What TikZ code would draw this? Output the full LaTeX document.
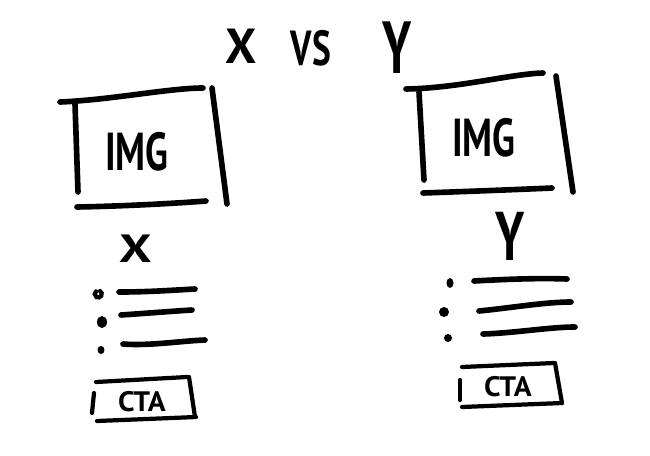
\documentclass[tikz,border=0pt]{standalone}
\usepackage{fontspec}
\setmainfont{PT Sans}
\usetikzlibrary{positioning}

\begin{document}
\begin{tikzpicture}[
    x=0.025cm, y=-0.025cm,
    pen/.style={line width=4pt, line cap=round},
    thinpen/.style={line width=3pt, line cap=round},
    dot/.style={fill=black},
    bigtext/.style={font=\bfseries\fontsize{38}{38}\selectfont, inner sep=0pt, transform shape},
    titletext/.style={font=\bfseries\fontsize{35}{35}\selectfont, inner sep=0pt, transform shape},
    smalltext/.style={font=\bfseries\fontsize{20}{20}\selectfont, inner sep=0pt, transform shape}
]
\useasboundingbox (0,0) rectangle (650,455);

% --- Title ---
\node[titletext] (titlex) at (241,46) {X};
\node[titletext, xscale=0.72] (titlevs) at (311,48) {VS};
\node[titletext, yscale=1.5] (titley) at (397,48) {Y};

% --- Left variant ---

% image frame
\draw[pen] (60,102) .. controls (110,100) and (170,88) .. (203,88);
\draw[pen] (75,104) -- (78,192);
\draw[pen] (212,88) -- (227,204);
\draw[pen] (77,207) .. controls (130,206) and (180,203) .. (206,201);
\node[bigtext, xscale=0.7] (imgleft) at (137,152) {IMG};

% variant label
\node[titletext, xscale=1.3, scale=0.8] (labelx) at (136,249) {X};

% list
\draw[thinpen] (100,291) arc (-60:230:3.5);
\fill[dot] (102,322) ellipse (5 and 6);
\fill[dot] (101,350) ellipse (3.5 and 4);
\draw[pen] (119,292) .. controls (150,292) and (175,290) .. (195,289);
\draw[pen] (121,315) .. controls (150,313) and (175,311) .. (192,310);
\draw[pen] (123,344) .. controls (150,346) and (180,341) .. (205,340);

% call to action
\draw[thinpen] (96,382) -- (187,377);
\draw[thinpen] (94,393) -- (92,413);
\draw[thinpen] (189,377) -- (195,417);
\draw[thinpen] (97,421) -- (196,417);
\node[smalltext, xscale=1.05] (ctaleft) at (142,402) {CTA};

% --- Right variant ---

% image frame
\draw[pen] (406,89) .. controls (460,88) and (510,74) .. (543,73);
\draw[pen] (419,92) -- (424,180);
\draw[pen] (556,76) -- (573,192);
\draw[pen] (423,193) .. controls (480,191) and (530,189) .. (552,188);
\node[bigtext, xscale=0.7] (imgright) at (484,138) {IMG};

% variant label
\node[titletext, yscale=1.4] (labely) at (510,236) {Y};

% list
\fill[dot] (450,283) ellipse (3.5 and 5);
\fill[dot] (444,312) ellipse (5 and 5);
\fill[dot] (448,338) ellipse (4 and 4);
\draw[pen] (474,281) .. controls (510,279) and (540,278) .. (567,279);
\draw[pen] (479,311) .. controls (510,308) and (545,302) .. (571,302);
\draw[pen] (483,334) .. controls (515,333) and (550,327) .. (575,327);

% call to action
\draw[thinpen] (462,367) -- (554,363);
\draw[thinpen] (460,380) -- (460,400);
\draw[thinpen] (555,363) -- (562,403);
\draw[thinpen] (462,407) -- (562,403);
\node[smalltext, xscale=1.05] (ctaright) at (508,387) {CTA};

\end{tikzpicture}
\end{document}
